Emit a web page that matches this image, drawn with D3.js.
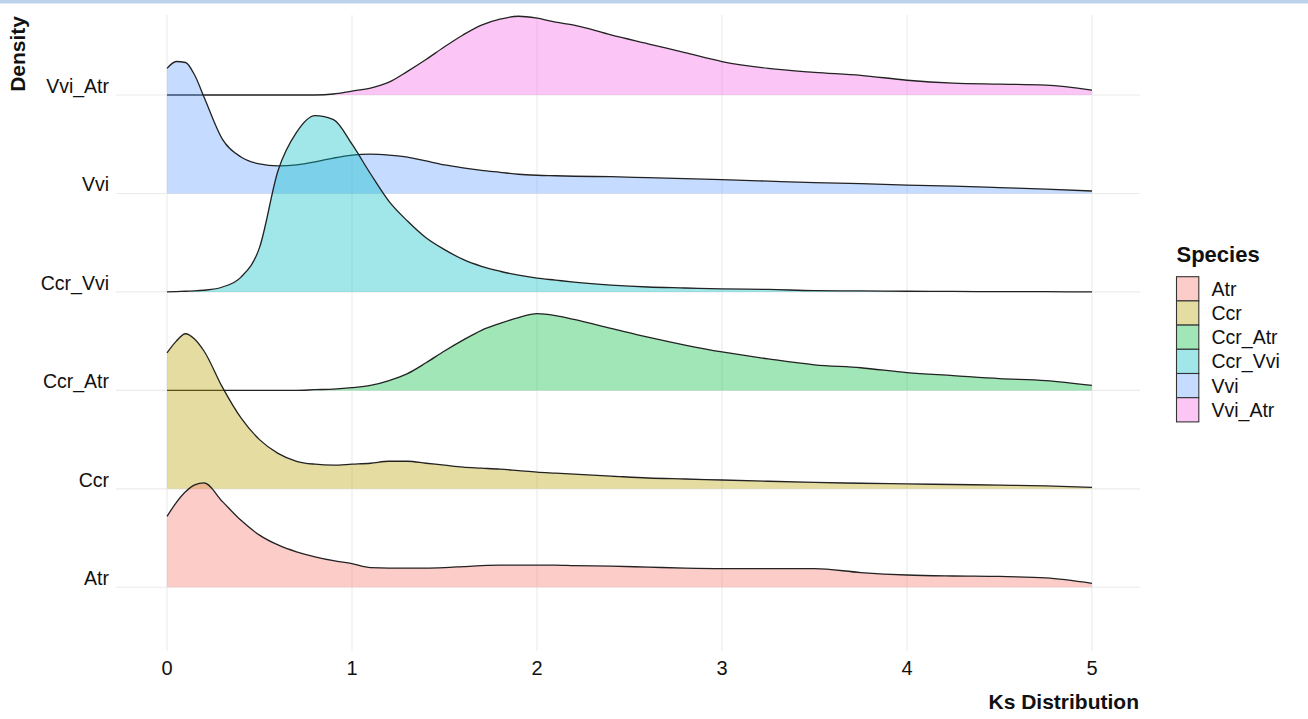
<!DOCTYPE html>
<html lang="en">
<head>
    <meta charset="utf-8" />
    <title>Ks distribution ridges</title>
    <script src="https://d3js.org/d3.v7.min.js"></script>
    <style>
        body { margin: 0; background: #fff; }
        text { font-family: "Liberation Sans", Arial, sans-serif; fill: #111; }
    </style>
</head>
<body>
    <script>
        var ks = [0, 0.05, 0.1, 0.15, 0.2, 0.3, 0.4, 0.5, 0.6, 0.7, 0.8, 0.9, 1.0,
            1.1, 1.2, 1.3, 1.4, 1.5, 1.6, 1.7, 1.8, 1.9, 2.0, 2.1, 2.2,
            2.4, 2.6, 2.8, 3.0, 3.25, 3.5, 3.75, 4.0, 4.25, 4.5, 4.75, 5.0];

        var atr = [0.72, 0.86, 0.97, 1.04, 1.06, 0.87, 0.68, 0.53, 0.43, 0.36, 0.31, 0.27, 0.24,
            0.20, 0.195, 0.195, 0.195, 0.20, 0.21, 0.22, 0.225, 0.225, 0.225, 0.225, 0.22,
            0.215, 0.205, 0.195, 0.19, 0.19, 0.19, 0.15, 0.125, 0.115, 0.11, 0.095, 0.04];
        var ccr = [1.38, 1.50, 1.575, 1.52, 1.40, 1.03, 0.72, 0.50, 0.36, 0.28, 0.25, 0.24, 0.25,
            0.26, 0.28, 0.28, 0.26, 0.24, 0.22, 0.21, 0.20, 0.185, 0.17, 0.16, 0.15,
            0.13, 0.11, 0.10, 0.09, 0.077, 0.065, 0.057, 0.05, 0.044, 0.038, 0.03, 0.015];
        var ccrAtr = [0, 0, 0, 0, 0, 0, 0, 0, 0, 0, 0.007, 0.013, 0.027,
            0.05, 0.10, 0.17, 0.28, 0.40, 0.51, 0.61, 0.68, 0.74, 0.78, 0.76, 0.72,
            0.63, 0.54, 0.46, 0.39, 0.32, 0.26, 0.23, 0.18, 0.15, 0.12, 0.10, 0.05];
        var ccrVvi = [0, 0.003, 0.007, 0.01, 0.017, 0.05, 0.15, 0.45, 1.23, 1.62, 1.79, 1.75, 1.50,
            1.20, 0.92, 0.72, 0.55, 0.43, 0.33, 0.26, 0.21, 0.17, 0.14, 0.12, 0.10,
            0.07, 0.05, 0.04, 0.03, 0.025, 0.013, 0.01, 0.007, 0.005, 0.003, 0.002, 0];
        var vvi = [1.27, 1.34, 1.33, 1.20, 0.98, 0.55, 0.37, 0.30, 0.28, 0.29, 0.32, 0.36, 0.39,
            0.40, 0.39, 0.37, 0.33, 0.29, 0.26, 0.235, 0.215, 0.195, 0.185, 0.18, 0.175,
            0.17, 0.16, 0.15, 0.14, 0.125, 0.11, 0.10, 0.085, 0.075, 0.06, 0.045, 0.025];
        var vviAtr = [0, 0, 0, 0, 0, 0, 0, 0, 0, 0, 0, 0.01, 0.04,
            0.07, 0.13, 0.24, 0.36, 0.49, 0.61, 0.71, 0.77, 0.80, 0.78, 0.74, 0.71,
            0.61, 0.52, 0.43, 0.34, 0.27, 0.23, 0.20, 0.15, 0.12, 0.11, 0.10, 0.05];

        var species = ["Atr", "Ccr", "Ccr_Atr", "Ccr_Vvi", "Vvi", "Vvi_Atr"];
        var seriesValues = [atr, ccr, ccrAtr, ccrVvi, vvi, vviAtr];
        var colours = ["#F8766D", "#B79F00", "#00BA38", "#00BFC4", "#619CFF", "#F564E3"];
        var xTicks = [0, 1, 2, 3, 4, 5];

        var w = 1308;
        var h = 719;
        var panel = { left: 116, right: 1140, top: 15, bottom: 651 };

        var svg = d3.select("body").append("svg").attr("width", w).attr("height", h);

        // window title strip at the very top
        svg.append("rect").attr("x", 0).attr("y", 0).attr("width", w).attr("height", 3.5)
            .style("fill", "#bcd1ea");

        var x = d3.scaleLinear().domain([0, 5]).range([167, 1092]);
        var y = d3.scalePoint().domain(species).range([587.3, 95]);
        var step = y.step();
        var dens = d3.scaleLinear().domain([0, 1]).range([0, step]);

        // grid
        svg.append("g").selectAll("line").data(xTicks).enter().append("line")
            .attr("x1", function (d) { return x(d); })
            .attr("x2", function (d) { return x(d); })
            .attr("y1", panel.top).attr("y2", panel.bottom)
            .style("stroke", "#ebebeb").style("stroke-width", 1.1);
        svg.append("g").selectAll("line").data(species).enter().append("line")
            .attr("x1", panel.left).attr("x2", panel.right)
            .attr("y1", function (d) { return y(d); })
            .attr("y2", function (d) { return y(d); })
            .style("stroke", "#ebebeb").style("stroke-width", 1.1);

        // ridges, top row first so lower ridges sit on top
        var order = d3.range(species.length).reverse();
        var ridges = svg.append("g");
        order.forEach(function (i) {
            var base = y(species[i]);
            var pts = ks.map(function (k, j) { return [k, seriesValues[i][j]]; });
            var area = d3.area().curve(d3.curveMonotoneX)
                .x(function (d) { return x(d[0]); })
                .y0(base)
                .y1(function (d) { return base - dens(d[1]); });
            var line = d3.line().curve(d3.curveMonotoneX)
                .x(function (d) { return x(d[0]); })
                .y(function (d) { return base - dens(d[1]); });
            ridges.append("path").attr("d", area(pts))
                .style("fill", colours[i]).style("fill-opacity", 0.37);
            ridges.append("path").attr("d", line(pts))
                .style("fill", "none").style("stroke", "#222").style("stroke-width", 1.3);
        });

        // axis labels
        svg.append("g").selectAll("text").data(species).enter().append("text")
            .attr("x", 109)
            .attr("y", function (d) { return y(d) - 2; })
            .attr("text-anchor", "end")
            .style("font-size", "19.5px")
            .text(function (d) { return d; });

        svg.append("g").selectAll("text").data(xTicks).enter().append("text")
            .attr("x", function (d) { return x(d); })
            .attr("y", 675)
            .attr("text-anchor", "middle")
            .style("font-size", "20px")
            .text(function (d) { return d; });

        svg.append("text")
            .attr("x", 1139).attr("y", 709)
            .attr("text-anchor", "end")
            .style("font-size", "21px").style("font-weight", "bold")
            .text("Ks Distribution");

        svg.append("text")
            .attr("transform", "translate(25,16) rotate(-90)")
            .attr("text-anchor", "end")
            .style("font-size", "21px").style("font-weight", "bold")
            .text("Density");

        // legend
        var legend = svg.append("g").attr("transform", "translate(1176.5,0)");
        legend.append("text").attr("x", 0).attr("y", 262)
            .style("font-size", "22px").style("font-weight", "bold").text("Species");
        var keyH = 24.2;
        var keys = legend.selectAll("g.key").data(species).enter().append("g")
            .attr("class", "key")
            .attr("transform", function (d, i) { return "translate(0," + (276.7 + i * keyH) + ")"; });
        keys.append("rect").attr("width", 22.3).attr("height", keyH)
            .style("fill", "#fff");
        keys.append("rect").attr("width", 22.3).attr("height", keyH)
            .style("fill", function (d, i) { return colours[i]; })
            .style("fill-opacity", 0.37)
            .style("stroke", "#333").style("stroke-width", 1.1);
        keys.append("text").attr("x", 35).attr("y", keyH / 2 + 7)
            .style("font-size", "19.5px")
            .text(function (d) { return d; });
    </script>
</body>
</html>
